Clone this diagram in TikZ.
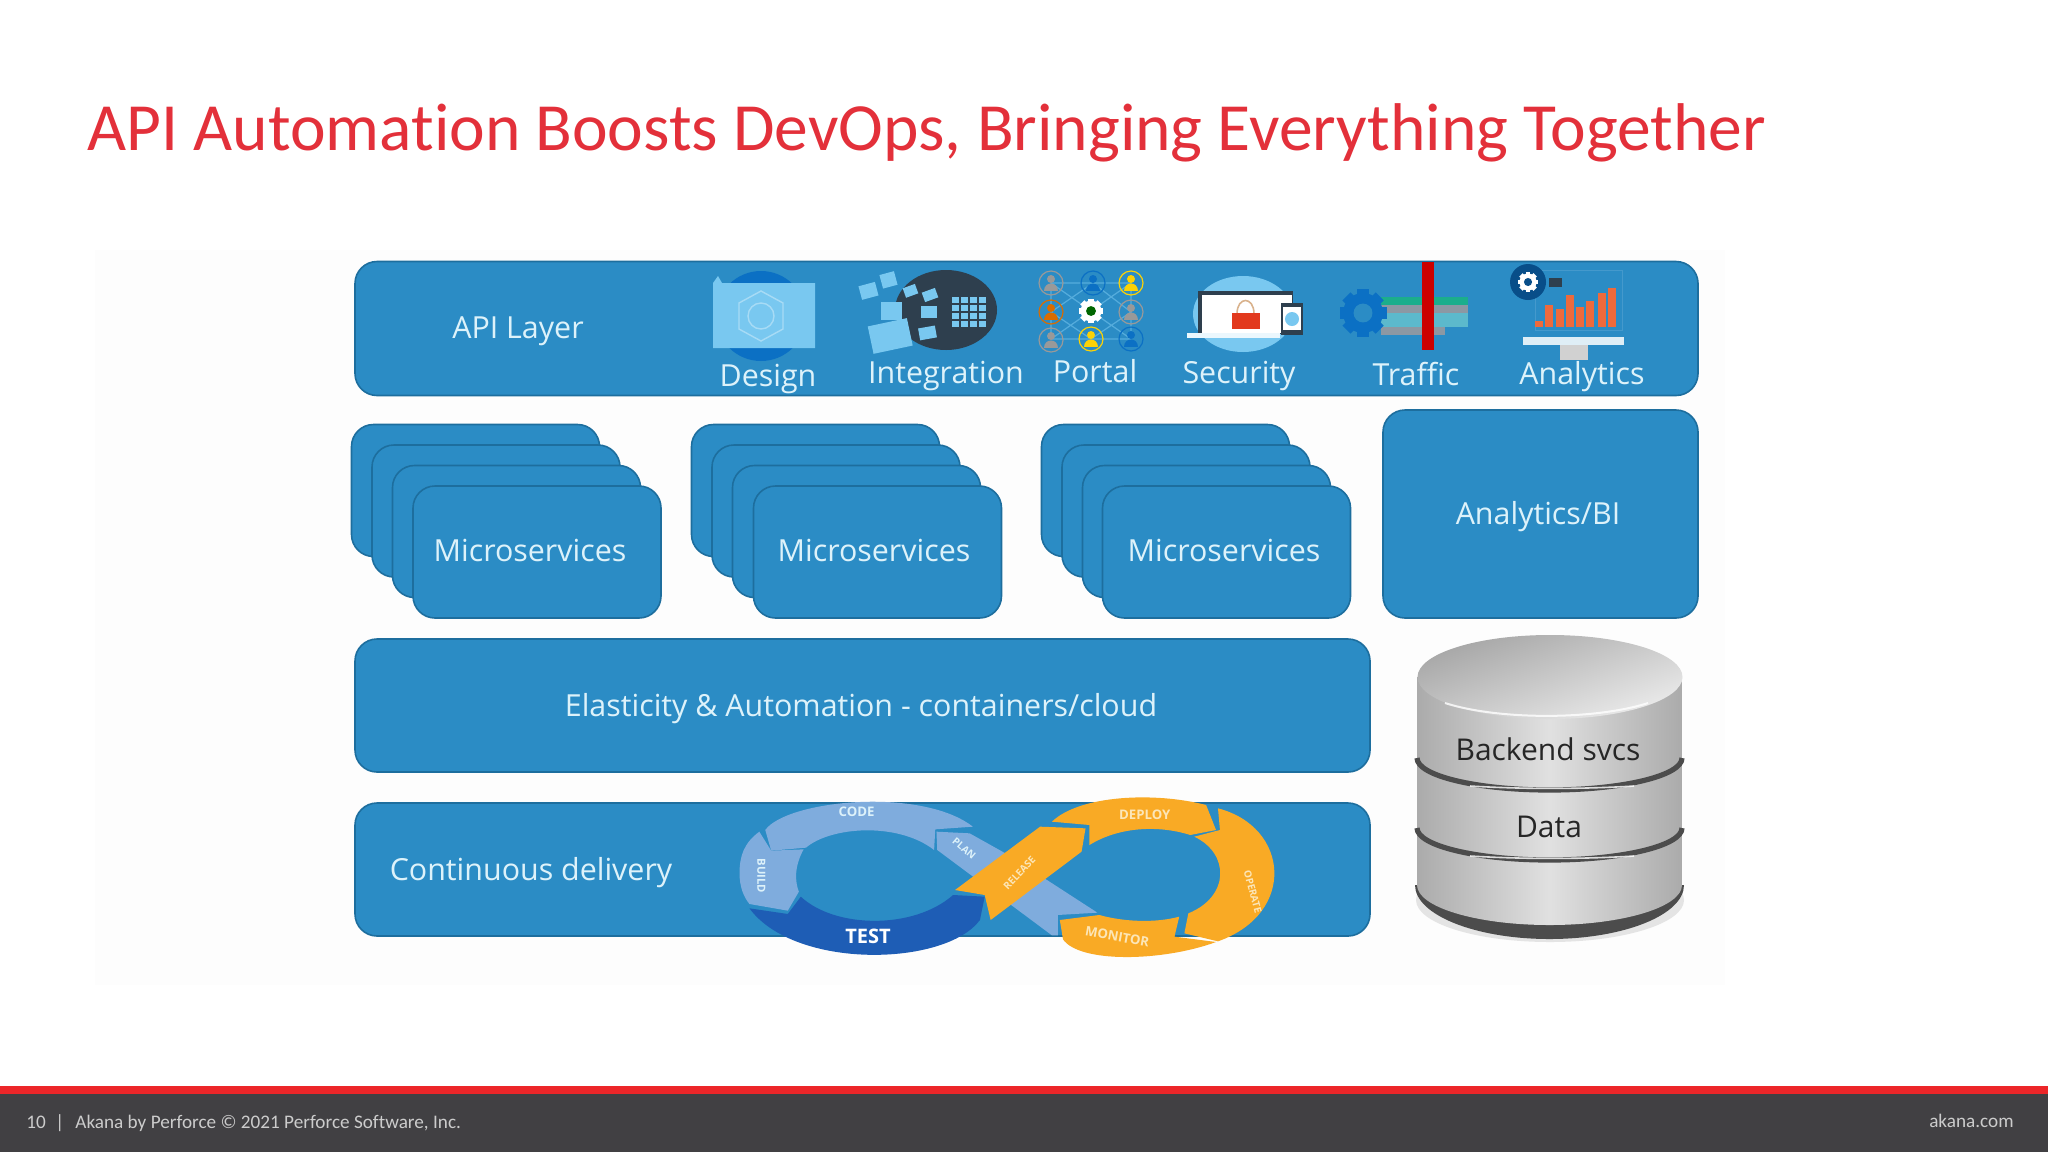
\documentclass[tikz,border=0pt]{standalone}
\usepackage{fontspec}
\setmainfont{Open Sans}
\newfontfamily\slidefont[Ligatures=NoCommon]{Carlito}
\usetikzlibrary{positioning}

\definecolor{perfred}{HTML}{E3303A}
\definecolor{barred}{HTML}{EC2629}
\definecolor{bardark}{HTML}{414043}
\definecolor{boxblue}{HTML}{2B8CC5}
\definecolor{boxedge}{HTML}{1D6E9E}
\definecolor{boxtext}{HTML}{DDF2FA}
\definecolor{iconsky}{HTML}{79C8F0}
\definecolor{icondeep}{HTML}{0B70C4}
\definecolor{iconnavy}{HTML}{2E3F4E}
\definecolor{loopblue}{HTML}{7FACDD}
\definecolor{loopdeep}{HTML}{1E5DB5}
\definecolor{looporange}{HTML}{F9AA25}
\definecolor{looppale}{HTML}{FCE6B8}
\definecolor{trafficgreen}{HTML}{1BAE8C}
\definecolor{trafficgray}{HTML}{8C98A3}
\definecolor{trafficteal}{HTML}{5CB9CC}
\definecolor{chartorange}{HTML}{EE6A3C}

\tikzset{
    layerbox/.style={draw=boxedge, line width=0.8pt, fill=boxblue, rounded corners=11pt, inner sep=0pt},
    msbox/.style={layerbox, minimum width=124pt, minimum height=66pt},
    iconlabel/.style={anchor=base, text=boxtext, font=\fontsize{15.2}{18}\selectfont, inner sep=0pt},
    dblabel/.style={anchor=base, inner sep=0pt, text=black!85, font=\fontsize{15}{18}\selectfont},
    looplabel/.style={text=#1, font=\bfseries\fontsize{6.6}{8}\selectfont, inner sep=0pt},
    looplabel/.default=boxtext,
    pics/gearicon/.style n args={3}{code={
        \foreach \a in {0,45,90,135}
            \fill[#2, rotate=\a] (-0.27*#1,-1.12*#1) rectangle (0.27*#1,1.12*#1);
        \fill[#2] (0,0) circle (0.95*#1);
        \fill[#3] (0,0) circle (0.45*#1);
    }},
    pics/personicon/.style={code={
        \draw[#1, line width=0.6pt] (0,0) circle (12);
        \fill[#1] (0,-4) circle (4);
        \fill[#1] (-7,8) .. controls (-7,-2) and (7,-2) .. (7,8) -- cycle;
    }}
}

\begin{document}
\begin{tikzpicture}[x=0.5pt, y=-0.5pt]
    \useasboundingbox (0,0) rectangle (2048,1152);
    \fill[white] (0,0) rectangle (2048,1152);
    \fill[black!0.6] (95,250) rectangle (1725,985);

    % Title and footer
    \node[anchor=base west, inner sep=0pt, text=perfred, font=\slidefont\fontsize{33.75}{40}\selectfont] (title) at (87,150)
        {API Automation Boosts DevOps, Bringing Everything Together};
    \fill[bardark] (0,1094) rectangle (2048,1152);
    \fill[barred] (0,1086) rectangle (2048,1094);
    \node[anchor=base west, inner sep=0pt, text=black!20, font=\slidefont\fontsize{9.6}{11}\selectfont] (pageno) at (26,1128) {10};
    \node[anchor=base west, inner sep=0pt, text=black!20, font=\slidefont\fontsize{9.6}{11}\selectfont] (pagebar) at (55,1128) {|};
    \node[anchor=base west, inner sep=0pt, text=black!20, font=\slidefont\fontsize{9.6}{11}\selectfont] (credit) at (75,1128)
        {Akana by Perforce © 2021 Perforce Software, Inc.};
    \node[anchor=base east, inner sep=0pt, text=black!20, font=\slidefont\fontsize{9.6}{11}\selectfont] (site) at (2014,1127) {akana.com};

    % API layer
    \node[layerbox, minimum width=671.5pt, minimum height=67pt] (api) at (1026.5,328.5) {};
    \node[iconlabel] (apilabel) at (518,338) {API Layer};
    \node[iconlabel] (design) at (768,386) {Design};
    \node[iconlabel] (integration) at (946,383) {Integration};
    \node[iconlabel] (portal) at (1095,382) {Portal};
    \node[iconlabel] (security) at (1239,383) {Security};
    \node[iconlabel] (traffic) at (1416,385) {Traffic};
    \node[iconlabel] (analytics) at (1582,384) {Analytics};

    % Microservices stacks
    \node[msbox] (msa1) at (475.5,490.5) {};
    \node[msbox] (msa2) at (496,511) {};
    \node[msbox] (msa3) at (516.5,531.5) {};
    \node[msbox] (msa4) at (537,552) {};
    \node[iconlabel] (msalabel) at (530,561) {Microservices};
    \node[msbox] (msb1) at (815.5,490.5) {};
    \node[msbox] (msb2) at (836,511) {};
    \node[msbox] (msb3) at (856.5,531.5) {};
    \node[msbox] (msb4) at (877.5,552) {};
    \node[iconlabel] (msblabel) at (874,561) {Microservices};
    \node[msbox] (msc1) at (1165.5,490.5) {};
    \node[msbox] (msc2) at (1186,511) {};
    \node[msbox] (msc3) at (1206.5,531.5) {};
    \node[msbox] (msc4) at (1226.5,552) {};
    \node[iconlabel] (msclabel) at (1224,561) {Microservices};
    \node[layerbox, minimum width=157.5pt, minimum height=104pt] (bi) at (1540.5,514) {};
    \node[iconlabel] (bilabel) at (1538,524) {Analytics/BI};

    % Lower layers
    \node[layerbox, minimum width=507.5pt, minimum height=66.5pt] (elastic) at (862.5,705.5) {};
    \node[iconlabel] (elasticlabel) at (861,716) {Elasticity \& Automation - containers/cloud};
    \node[layerbox, minimum width=507.5pt, minimum height=66.5pt] (delivery) at (862.5,869.5) {};
    \node[iconlabel] (deliverylabel) at (531,880) {Continuous delivery};

    % Design icon
    \fill[icondeep] (761,316) circle (45);
    \fill[iconsky] (713,283) -- (718,276) -- (722,283) -- (815,283) -- (815,348) -- (713,348) -- cycle;
    \draw[white, opacity=0.35, line width=0.7pt] (761,291) -- (783,303) -- (783,329) -- (761,341) -- (739,329) -- (739,303) -- cycle;
    \draw[white, opacity=0.35, line width=0.7pt] (761,316) circle (13);

    % Integration icon
    \fill[iconnavy] (946,310) ellipse (51 and 40);
    \foreach \x in {952,961,970,979} \foreach \y in {297,305,313,321}
        \fill[iconsky] (\x,\y) rectangle +(6.5,5.5);
    \fill[iconsky, rotate around={15:(868,291)}] (860,284) rectangle (877,298);
    \fill[iconsky, rotate around={15:(888,280)}] (881,273) rectangle (896,287);
    \fill[iconsky] (881,302) rectangle (902,320);
    \fill[iconsky, rotate around={12:(890,335)}] (870,322) rectangle (910,350);
    \fill[iconsky, rotate around={20:(910,291)}] (904,286) rectangle (917,296);
    \fill[iconsky, rotate around={20:(930,295)}] (923,290) rectangle (937,300);
    \fill[iconsky] (921,306) rectangle (937,318);
    \fill[iconsky, rotate around={10:(927,333)}] (919,327) rectangle (936,339);

    % Portal icon
    \draw[iconsky, opacity=0.55, line width=0.6pt] (1051,283) -- (1131,339) (1131,283) -- (1051,339) (1051,312) -- (1093,283) -- (1131,312) -- (1091,339) -- cycle
        (1051,283) -- (1131,283) (1051,339) -- (1131,339) (1051,283) -- (1051,339) (1131,283) -- (1131,339);
    \pic at (1051,283) {personicon=black!40};
    \pic at (1093,283) {personicon=icondeep};
    \pic at (1131,283) {personicon=yellow!70!orange};
    \pic at (1051,312) {personicon=orange!85!black};
    \pic at (1131,312) {personicon=black!40};
    \pic at (1051,340) {personicon=black!40};
    \pic at (1091,339) {personicon=yellow!70!orange};
    \pic at (1131,339) {personicon=icondeep};
    \pic at (1091,311) {gearicon={11}{white}{black!60!green}};

    % Security icon
    \fill[iconsky] (1243,314) ellipse (50 and 38);
    \fill[iconnavy] (1198,291) rectangle (1293,334);
    \fill[white] (1202,295) rectangle (1292,333);
    \fill[white!85!iconsky] (1187,333) rectangle (1280,338);
    \draw[brown!60!white, line width=0.8pt] (1237,314) .. controls (1237,296) and (1254,296) .. (1254,314);
    \fill[red!55!brown] (1232,313) rectangle (1260,329);
    \fill[iconnavy] (1281,303) rectangle (1303,335);
    \fill[white] (1283,307) rectangle (1301,330);
    \fill[iconsky] (1292,319) circle (7);

    % Traffic icon
    \fill[trafficgreen] (1381,297) rectangle (1468,305);
    \fill[trafficgray] (1381,305) rectangle (1468,313);
    \fill[trafficteal] (1381,313) rectangle (1468,327);
    \fill[trafficgray] (1381,327) rectangle (1445,335);
    \pic at (1363,313) {gearicon={21}{icondeep}{boxblue}};
    \fill[red!80!black] (1422,262) -- (1434,262) -- (1434,350) -- (1422,350) -- cycle;

    % Analytics icon
    \draw[white, opacity=0.12] (1535,270) rectangle (1622,330);
    \foreach \x/\h in {1535/6,1545/22,1556/18,1566/32,1576/20,1586/26,1598/34,1608/39}
        \fill[chartorange] (\x,327) rectangle ++(8,-\h);
    \fill[white!85!boxblue] (1523,337) rectangle (1624,345);
    \fill[black!18] (1560,345) rectangle (1588,360);
    \fill[iconnavy] (1549,278) rectangle (1562,287);
    \fill[icondeep!70!black] (1528,282) circle (18);
    \pic at (1528,282) {gearicon={9}{white}{icondeep!70!black}};

    % Infinity loop
    \begin{scope}[shift={(700,780)}, xscale=0.3954, yscale=0.3333]
        \fill[loopblue] (598,155) -- (682,160) -- (780,225) -- (1005,398) -- (905,405) -- (905,466) -- (890,466) -- (600,210) -- cycle;
        \fill[loopblue] (150,155) .. controls (110,190) and (100,230) .. (100,280) .. controls (100,320) and (110,350) .. (125,372)
            -- (222,392) -- (250,335) .. controls (240,305) and (238,260) .. (262,208) -- (180,212) -- cycle;
        \fill[loopblue] (165,150) .. controls (220,60) and (560,20) .. (690,140) -- (595,148) -- (592,210)
            .. controls (500,125) and (330,140) .. (268,203) -- (180,212) -- cycle;
        \fill[loopdeep] (125,385) -- (222,402) -- (255,350) .. controls (340,445) and (540,450) .. (640,345)
            -- (720,350) -- (708,420) .. controls (620,560) and (240,570) .. (125,385) -- cycle;
        \fill[looporange] (645,330) -- (860,140) -- (975,145) -- (965,215) -- (735,420) -- (720,345) -- cycle;
        \fill[looporange] (890,125) .. controls (960,45) and (1150,35) .. (1280,75) -- (1305,150) -- (1240,165)
            .. controls (1160,135) and (1060,140) .. (985,195) -- (985,135) -- cycle;
        \fill[looporange] (1310,85) .. controls (1490,140) and (1510,400) .. (1310,484) -- (1225,460) -- (1235,400)
            .. controls (1340,350) and (1340,220) .. (1250,170) -- (1315,150) -- cycle;
        \fill[looporange] (910,420) -- (1010,405) .. controls (1070,425) and (1150,430) .. (1212,410) -- (1200,470) -- (1305,486)
            .. controls (1170,545) and (960,550) .. (918,478) -- cycle;
        \node[looplabel] (codelabel) at (396,96) {CODE};
        \node[looplabel, rotate=-90, font=\bfseries\fontsize{5.6}{7}\selectfont] (buildlabel) at (155,288) {BUILD};
        \node[looplabel, rotate=-40, font=\bfseries\fontsize{5}{6}\selectfont] (planlabel) at (668,205) {PLAN};
        \node[looplabel=white, font=\bfseries\fontsize{10}{12}\selectfont] (testlabel) at (425,470) {TEST};
        \node[looplabel=looppale, rotate=47, font=\bfseries\fontsize{5}{6}\selectfont] (releaselabel) at (808,278) {RELEASE};
        \node[looplabel=looppale] (deploylabel) at (1125,103) {DEPLOY};
        \node[looplabel=looppale, rotate=-75, font=\bfseries\fontsize{5}{6}\selectfont] (operatelabel) at (1398,335) {OPERATE};
        \node[looplabel=looppale, rotate=-10] (monitorlabel) at (1055,470) {MONITOR};
    \end{scope}

    % Database
    \fill[black!45, opacity=0.22] (1550,900) ellipse (134 and 42);
    \fill[black!70] (1415,885) -- (1684,885) arc (0:180:134.5 and 54) -- cycle;
    \shade[left color=black!33, right color=black!33, middle color=black!12] (1417,677) -- (1417,885) arc (180:0:132.5 and 40) -- (1682,677) -- cycle;
    \shade[top color=black!35, bottom color=black!8, shading angle=20] (1550,677) ellipse (132.5 and 42);
    \draw[white, opacity=0.8, line width=1pt] (1445,703) arc (140:40:132.5 and 36);
    \draw[black!70, line width=2.6pt] (1417,758) arc (180:0:132.5 and 32);
    \draw[white, opacity=0.8, line width=0.8pt] (1470,786) arc (110:70:240 and 40);
    \draw[black!70, line width=2.6pt] (1417,828) arc (180:0:132.5 and 32);
    \draw[white, opacity=0.8, line width=0.8pt] (1470,856) arc (110:70:240 and 40);
    \node[dblabel] (backend) at (1548,760) {Backend svcs};
    \node[dblabel] (data) at (1549,837) {Data};
\end{tikzpicture}
\end{document}
